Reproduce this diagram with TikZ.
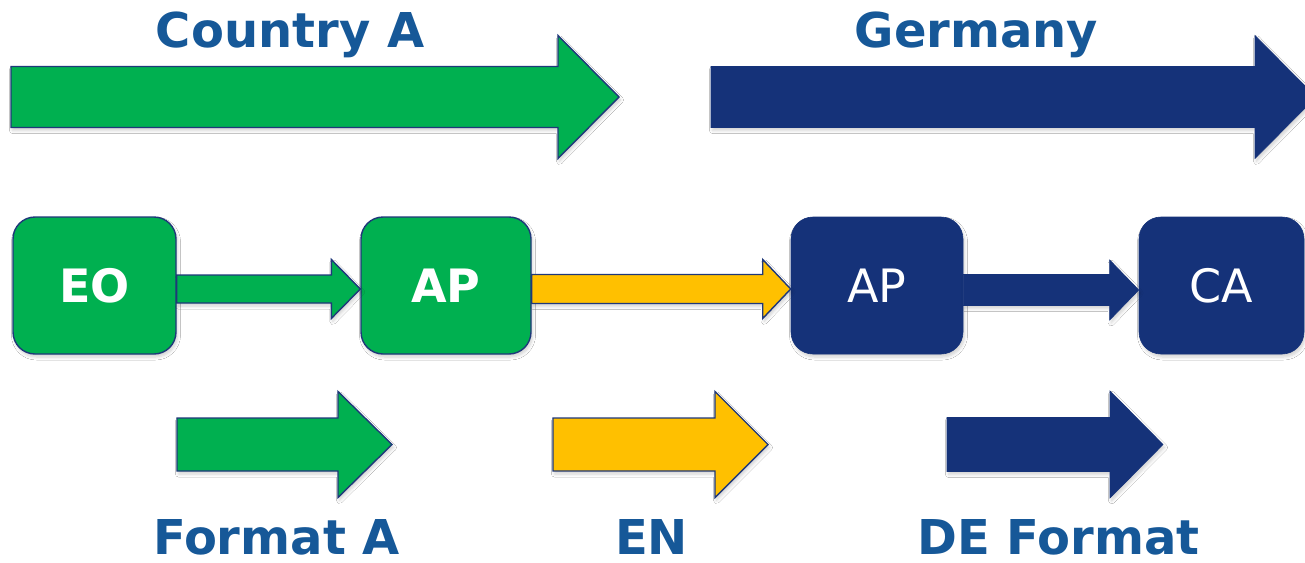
\documentclass[tikz,border=0pt]{standalone}
\usepackage{fontspec}
\setmainfont{DejaVu Sans}
\usetikzlibrary{calc,shadows.blur}
\definecolor{cgreen}{RGB}{0,176,80}
\definecolor{cblue}{RGB}{21,50,121}
\definecolor{cyellow}{RGB}{255,192,0}
\definecolor{cline}{RGB}{31,56,122}
\definecolor{ctext}{RGB}{22,88,152}
% block arrow: style, start, tip, shaft half, head half, head length
\newcommand\barrow[6]{%
  \path[#1] let \p1=(#2), \p2=(#3) in
    ({\x1},{\y2+#4}) -- ({\x2-#6},{\y2+#4}) -- ({\x2-#6},{\y2+#5}) --
    ({\x2},{\y2}) -- ({\x2-#6},{\y2-#5}) -- ({\x2-#6},{\y2-#4}) --
    ({\x1},{\y2-#4}) -- cycle;}
\tikzset{
  shad/.style={blur shadow={shadow xshift=1.5pt,shadow yshift=-3pt,shadow blur radius=3pt,shadow blur steps=6,shadow opacity=18}},
  garrow/.style={fill=cgreen,draw=cline,line width=1.4pt,line join=miter,shad},
  yarrow/.style={fill=cyellow,draw=cline,line width=1.4pt,line join=miter,shad},
  barrowst/.style={fill=cblue,draw=cblue,line width=0.6pt,line join=miter,shad},
  boxbase/.style={rectangle,rounded corners=22pt,inner sep=0pt,minimum height=137pt,
    text=white,font=\fontsize{46pt}{54pt}\selectfont,shad},
  gbox/.style={boxbase,fill=cgreen,draw=cline,line width=1.4pt,font=\fontsize{46pt}{54pt}\selectfont\bfseries},
  bbox/.style={boxbase,fill=cblue,draw=cblue,line width=0.6pt},
  lbl/.style={anchor=base,inner sep=0pt,text=ctext,font=\fontsize{48pt}{56pt}\selectfont\bfseries}
}
\begin{document}
\begin{tikzpicture}[x=1pt,y=-1pt]
\useasboundingbox (0,0) rectangle (1305,562);
\fill[white] (0,0) rectangle (1305,562);
% titles
\node[lbl] (tca) at (290,47) {Country A};
\node[lbl] (tde) at (976.5,47) {Germany};
% top arrows
\barrow{garrow}{11,97}{619,97}{30.5pt}{61.5pt}{61pt}
\barrow{barrowst}{711,97}{1316,97}{30.5pt}{61.5pt}{61pt}
% boxes
\node[gbox,minimum width=163pt] (eo) at (94.5,285.5) {EO};
\node[gbox,minimum width=170pt] (apa) at (446,285.5) {AP};
\node[bbox,minimum width=172pt] (apd) at (877,285.5) {AP};
\node[bbox,minimum width=165pt] (ca) at (1221.5,285.5) {CA};
% connectors
\barrow{garrow}{eo.east}{$(apa.west)+(0,3.5)$}{14pt}{29.5pt}{29pt}
\barrow{yarrow}{apa.east}{$(apd.west)+(0,3.5)$}{14.5pt}{29.5pt}{28pt}
\barrow{barrowst}{apd.east}{$(ca.west)+(0,4.5)$}{15.5pt}{30pt}{29pt}
% bottom arrows
\barrow{garrow}{177,444.5}{392,444.5}{26.5pt}{53pt}{54pt}
\barrow{yarrow}{553,444.5}{768,444.5}{26.5pt}{53pt}{53pt}
\barrow{barrowst}{947,444.5}{1163,444.5}{27pt}{53.5pt}{53pt}
% bottom labels
\node[lbl] (lfa) at (276.5,554) {Format A};
\node[lbl] (len) at (651.5,554) {EN};
\node[lbl] (lde) at (1058.5,554) {DE Format};
\end{tikzpicture}
\end{document}
